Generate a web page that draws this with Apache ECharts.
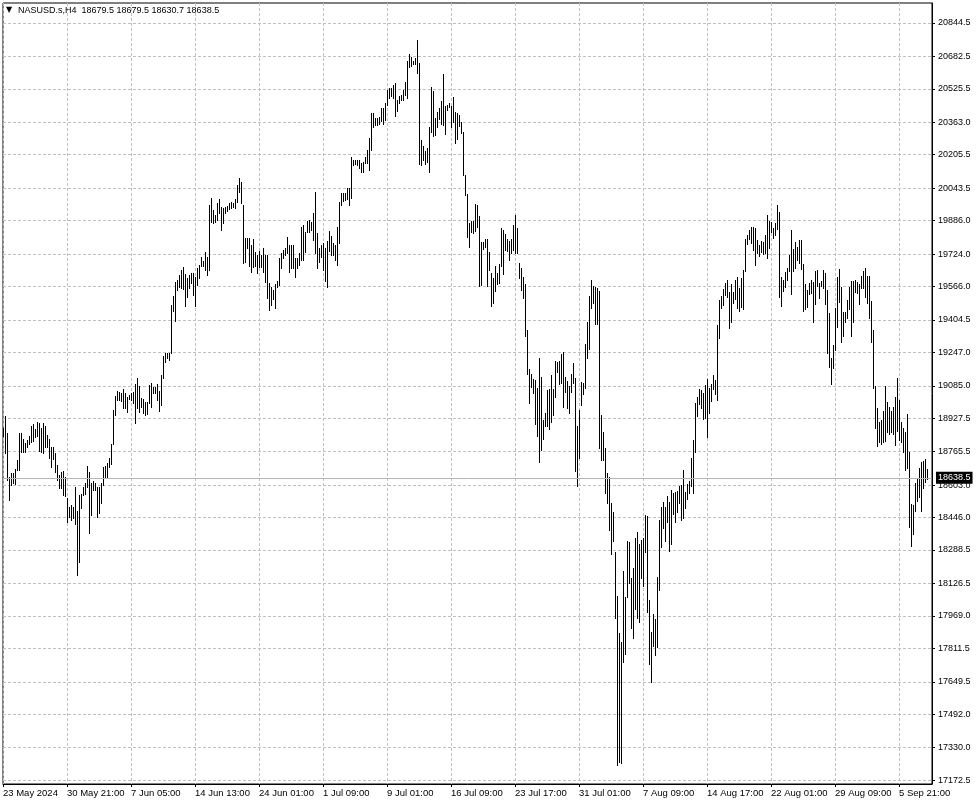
<!DOCTYPE html>
<html><head><meta charset="utf-8">
<script src="https://cdn.jsdelivr.net/npm/echarts@6/dist/echarts.min.js"></script>
<style>html,body{margin:0;padding:0;background:#fff}#c{width:978px;height:805px}</style>
</head><body><div id="c"></div>
<script>
const symbolName = 'NASUSD.s,H4';
const lastOHLC = ['18679.5', '18679.5', '18630.7', '18638.5'];
const lastPrice = 18638.5;

const dateLabels = ['23 May 2024','30 May 21:00','7 Jun 05:00','14 Jun 13:00','24 Jun 01:00','1 Jul 09:00','9 Jul 01:00','16 Jul 09:00','23 Jul 17:00','31 Jul 01:00','7 Aug 09:00','14 Aug 17:00','22 Aug 01:00','29 Aug 09:00','5 Sep 21:00'];
const priceLabels = ['20844.5','20682.5','20525.5','20363.0','20205.5','20043.5','19886.0','19724.0','19566.0','19404.5','19247.0','19085.0','18927.5','18765.5','18603.0','18446.0','18288.5','18126.5','17969.0','17811.5','17649.5','17492.0','17330.0','17172.5'];

const highs = [
18879,18938,18854,18644,18664,18664,18680,18725,18854,18858,18825,18806,18822,18841,18890,18900,18874,18911,18906,18879,
18906,18890,18846,18825,18786,18790,18757,18701,18652,18668,18673,18641,18539,18499,18507,18499,18596,18479,18555,18560,
18596,18612,18696,18668,18612,18625,18612,18596,18596,18612,18693,18696,18712,18733,18803,18968,19035,19061,19056,19051,
19068,19051,19029,19040,19051,19056,19094,19121,19084,19024,19019,19008,19008,19089,19097,19081,19081,19094,19061,19137,
19229,19242,19242,19246,19477,19520,19590,19598,19622,19647,19663,19627,19606,19622,19630,19634,19611,19655,19671,19711,
19692,19735,19711,19962,19994,19938,19913,19973,19989,19954,19946,19954,19957,19970,19978,19973,19989,20059,20091,20075,
19962,19803,19803,19803,19768,19797,19735,19719,19739,19719,19755,19719,19719,19582,19566,19550,19577,19593,19703,19727,
19744,19755,19808,19768,19768,19768,19706,19706,19727,19857,19865,19832,19884,19889,19881,19921,20026,19824,19752,19768,
19776,19752,19787,19836,19813,19776,19768,19857,19978,20018,20018,20018,20043,20046,20196,20180,20180,20180,20180,20164,
20172,20196,20229,20285,20406,20406,20382,20382,20390,20431,20431,20455,20520,20528,20528,20544,20555,20471,20490,20495,
20520,20560,20662,20694,20678,20662,20673,20762,20652,20277,20248,20225,20237,20342,20532,20516,20382,20414,20431,20468,
20597,20442,20447,20458,20442,20487,20414,20410,20398,20366,20317,20107,20015,19873,19886,19886,19967,19962,19908,19784,
19784,19795,19795,19735,19630,19606,19666,19630,19676,19849,19841,19821,19795,19789,19795,19865,19913,19849,19682,19655,
19611,19577,19356,19166,19141,19118,19113,19076,19218,19129,18919,18951,19065,19069,19137,19069,19205,19199,19205,19238,
19247,19129,19108,19086,19141,19194,19121,18892,18968,19102,19097,19286,19393,19522,19598,19571,19566,19558,19545,18943,
18859,18782,18660,18644,18515,18471,18277,18067,17884,17844,18187,18062,18332,18329,18151,18200,18345,18377,18316,18337,
18345,18458,18455,18046,17892,17977,17954,18159,18434,18499,18520,18499,18552,18520,18580,18563,18571,18575,18601,18604,
18677,18571,18607,18623,18733,18822,19000,19032,19069,19065,19048,19089,19118,19076,19092,19137,19113,19380,19501,19522,
19554,19582,19598,19541,19577,19541,19598,19614,19561,19609,19647,19797,19816,19841,19857,19857,19852,19792,19768,19787,
19784,19816,19913,19884,19881,19849,19873,19962,19926,19614,19598,19635,19658,19719,19841,19748,19781,19760,19792,19792,
19674,19577,19550,19582,19598,19587,19642,19647,19582,19593,19647,19630,19550,19436,19221,19283,19461,19612,19651,19566,
19441,19444,19501,19566,19593,19593,19598,19590,19577,19619,19642,19658,19619,19619,19496,19356,19086,18976,18911,18919,
18963,19086,19008,18984,18963,18984,19032,19124,19016,18911,18882,18862,18947,18765,18510,18507,18612,18636,18685,18717,
18720,18730,18679.5
];
const lows = [
18843,18757,18628,18531,18604,18612,18609,18677,18677,18765,18765,18765,18790,18803,18814,18819,18838,18841,18770,18765,
18757,18790,18786,18733,18689,18728,18668,18628,18588,18588,18555,18550,18426,18450,18434,18442,18415,18166,18232,18491,
18555,18560,18592,18373,18458,18580,18580,18450,18466,18515,18604,18641,18644,18689,18706,18803,18943,19016,19016,19013,
18976,18976,18959,19019,19016,19000,18903,18976,18959,18984,18951,18943,18948,19000,18980,19048,19048,19016,18964,18992,
19121,19202,19218,19210,19242,19449,19401,19550,19566,19558,19553,19472,19517,19558,19582,19525,19472,19574,19606,19666,
19666,19647,19622,19647,19881,19873,19881,19889,19921,19841,19876,19921,19934,19941,19946,19954,19946,19978,20026,19970,
19679,19684,19755,19668,19638,19663,19668,19630,19663,19663,19638,19590,19512,19453,19477,19506,19464,19566,19574,19655,
19703,19719,19727,19638,19655,19655,19614,19655,19671,19695,19695,19735,19832,19832,19841,19792,19727,19655,19687,19711,
19647,19593,19566,19739,19719,19719,19695,19671,19776,19962,19981,19986,19991,19962,19997,20156,20159,20156,20140,20123,
20123,20164,20164,20132,20229,20342,20350,20350,20353,20369,20353,20374,20447,20482,20492,20482,20393,20419,20458,20471,
20471,20495,20479,20629,20636,20646,20646,20600,20161,20156,20180,20161,20172,20123,20317,20296,20301,20342,20377,20355,
20350,20306,20423,20435,20342,20366,20264,20280,20345,20309,20107,20010,19805,19760,19832,19828,19837,19857,19569,19574,
19747,19756,19569,19647,19472,19488,19546,19579,19585,19666,19627,19744,19740,19695,19731,19744,19731,19731,19606,19550,
19512,19328,19141,19000,19081,19048,18898,18843,18714,18774,18827,18892,18892,18875,18911,18943,19032,19153,19092,19097,
18984,19056,18979,18951,19053,19097,18672,18601,18736,18992,19044,19073,19221,19263,19461,19485,19383,19383,18785,18725,
18725,18563,18515,18386,18268,18332,17960,17246,17259,17254,17747,17783,18062,18127,17912,17860,18002,17960,17941,18154,
18116,18277,17990,17734,17647,17825,17779,17820,18095,18305,18394,18332,18426,18284,18316,18461,18423,18471,18515,18434,
18442,18491,18536,18563,18601,18563,18765,18940,18995,18979,18924,18930,18838,18951,19011,19069,19044,19016,19318,19461,
19477,19525,19517,19364,19396,19485,19506,19461,19448,19469,19457,19642,19771,19797,19776,19744,19671,19727,19716,19735,
19723,19727,19703,19752,19829,19803,19816,19845,19517,19474,19545,19566,19598,19642,19529,19642,19658,19695,19679,19651,
19448,19457,19469,19529,19533,19393,19480,19571,19512,19571,19558,19480,19242,19178,19092,19170,19259,19372,19490,19296,
19328,19393,19412,19457,19328,19393,19538,19533,19480,19558,19558,19517,19485,19415,19299,19076,18882,18795,18811,18801,
18811,18817,18862,18850,18859,18850,18798,18866,18822,18811,18762,18677,18688,18402,18310,18365,18478,18526,18547,18478,
18591,18617,18630.7
];

const FONT = '"Liberation Sans", Arial, sans-serif';
const BAR_STEP = 32;
const xLabelValues = dateLabels.map((_, k) => k * BAR_STEP);
const yLabelValues = priceLabels.map(Number);
const bars = highs.map((h, i) => [i, h, lows[i]]);

const chart = echarts.init(document.getElementById('c'), null, { renderer: 'canvas' });
const option = {
  animation: false,
  backgroundColor: '#ffffff',
  title: [
    { text: '\u25BC', left: 6, top: 6, padding: 0, textStyle: { fontSize: 8, fontWeight: 'normal', color: '#000', fontFamily: 'DejaVu Sans' } },
    { text: symbolName + '  ' + lastOHLC.join(' '), left: 18, top: 6, padding: 0, textStyle: { fontSize: 9, fontWeight: 'normal', color: '#000', fontFamily: FONT } }
  ],
  grid: { left: 3, right: 46, top: 3, bottom: 21, show: true, borderColor: '#000', borderWidth: 1, backgroundColor: 'transparent' },
  xAxis: {
    type: 'value', min: 0, max: 464.5, interval: 16,
    axisLine: { show: true, onZero: false, lineStyle: { color: '#000', width: 1 } },
    axisTick: { show: true, length: 3, customValues: xLabelValues, lineStyle: { color: '#000' } },
    axisLabel: {
      show: true, customValues: xLabelValues, align: 'left', margin: 4,
      fontSize: 9.5, color: '#000', fontFamily: FONT, hideOverlap: false,
      formatter: v => (v % BAR_STEP === 0 && dateLabels[v / BAR_STEP]) ? dateLabels[v / BAR_STEP] : ''
    },
    splitLine: { show: true, lineStyle: { color: '#c0c0c0', type: [3, 2], width: 1 } }
  },
  yAxis: {
    type: 'value', position: 'right', min: 17153.6, max: 20941.45,
    axisLine: { show: true, onZero: false, lineStyle: { color: '#000', width: 1 } },
    axisTick: { show: true, length: 3, customValues: yLabelValues, lineStyle: { color: '#000' } },
    axisLabel: {
      show: true, customValues: yLabelValues, margin: 6, fontSize: 9, color: '#000', fontFamily: FONT,
      hideOverlap: false, formatter: v => Number(v).toFixed(1)
    },
    splitLine: { show: false }
  },
  series: [
    {
      type: 'line', data: [], silent: true, z: 1,
      markLine: {
        silent: true, symbol: 'none', animation: false, z: 1,
        label: { show: false },
        lineStyle: { color: '#c0c0c0', type: [3, 2], width: 1 },
        data: yLabelValues.map(v => ({ yAxis: v }))
      }
    },
    {
      type: 'custom', z: 3, clip: true,
      encode: { x: 0, y: [1, 2] },
      data: bars,
      renderItem: (params, api) => {
        const i = api.value(0);
        const top = api.coord([i, api.value(1)]);
        const bot = api.coord([i, api.value(2)]);
        const x = Math.round(top[0]);
        const y1 = Math.round(top[1]);
        const y2 = Math.round(bot[1]);
        return { type: 'rect', shape: { x: x, y: y1, width: 1, height: Math.max(1, y2 - y1 + 1) }, style: { fill: '#000' } };
      }
    },
    {
      type: 'line', data: [], silent: true, z: 2,
      markLine: {
        silent: true, symbol: 'none', animation: false, z: 10,
        lineStyle: { color: '#b4b4b4', type: 'solid', width: 1 },
        label: {
          show: true, position: 'end', distance: 4, formatter: String(lastPrice.toFixed(1)),
          backgroundColor: '#000', color: '#fff', fontSize: 9, fontFamily: FONT, padding: [2, 2, 1, 2]
        },
        data: [{ yAxis: lastPrice }]
      }
    }
  ]
};
chart.setOption(option);
</script>
</body></html>
